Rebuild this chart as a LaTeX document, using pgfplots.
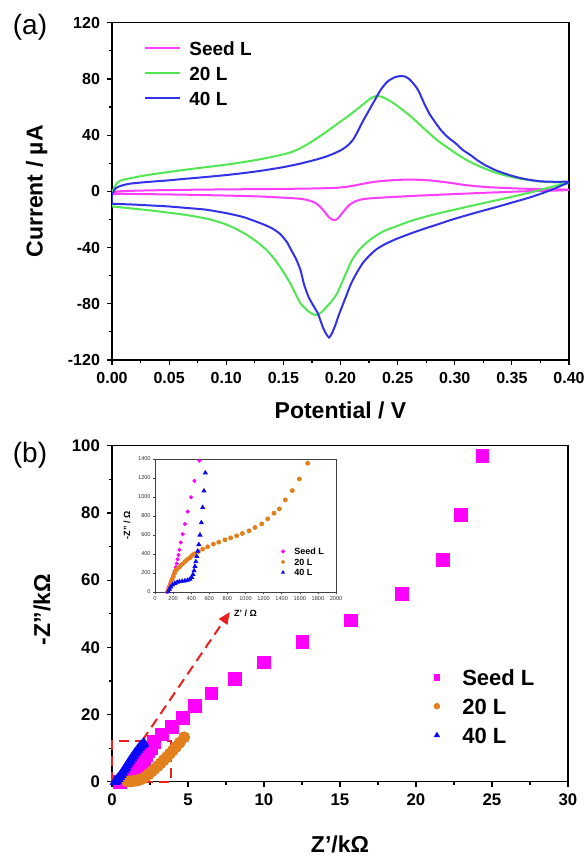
\documentclass[border=0pt]{standalone}
\usepackage{fontspec}
\setmainfont{Liberation Sans}
\usepackage{pgfplots}
\pgfplotsset{compat=1.18}
\usetikzlibrary{arrows.meta}

\definecolor{cvpink}{RGB}{255,60,255}
\definecolor{cvgreen}{RGB}{80,232,80}
\definecolor{cvblue}{RGB}{50,50,232}
\definecolor{ezpink}{RGB}{255,0,255}
\definecolor{ezorange}{RGB}{226,128,30}
\definecolor{ezblue}{RGB}{10,10,245}
\definecolor{ezred}{RGB}{235,30,30}

\pgfplotsset{
  common/.style={
    scale only axis, anchor=south west,
    tick align=outside, tick pos=left,
    major tick length=2.5pt, minor tick length=1.5pt,
    axis line style={line width=0.75pt},
    every tick/.style={line width=0.6pt, black},
    /pgf/number format/assume math mode=true,
    tick label style={font=\bfseries\fontsize{8}{9}\selectfont},
    label style={font=\bfseries\fontsize{11.5}{13}\selectfont},
  }
}

\begin{document}
\begin{tikzpicture}
\useasboundingbox (0,0) rectangle (293pt,-428.5pt);

\node[font=\fontsize{14}{16}\selectfont] at (15pt,-13.5pt) {(a)};
\node[font=\fontsize{14}{16}\selectfont] at (15pt,-227.5pt) {(b)};

% ---------- (a) cyclic voltammetry
\begin{axis}[common,
  at={(56pt,-180pt)}, width=228.5pt, height=168.65pt,
  xmin=0, xmax=0.4, ymin=-120, ymax=120,
  xtick={0,0.05,0.1,0.15,0.2,0.25,0.3,0.35,0.4},
  ytick={-120,-80,...,120},
  minor x tick num=1, minor y tick num=1,
  xticklabel style={/pgf/number format/fixed, /pgf/number format/fixed zerofill, /pgf/number format/precision=2},
  xlabel={Potential / V}, ylabel={Current / µA},
  xlabel style={at={(rel axis cs:0.5,-0.148)}, anchor=center},
  ylabel style={at={(rel axis cs:-0.165,0.5)}, anchor=center},
  legend cell align=left,
  legend image code/.code={\draw[#1] (0pt,0pt) -- (17.5pt,0pt); \path (21.5pt,0pt);},
  legend style={draw=none, fill=none, at={(rel axis cs:0.07,0.946)}, anchor=north west,
    inner sep=0pt, row sep=5.5pt, font=\bfseries\fontsize{9.5}{11}\selectfont,
    nodes={inner sep=0pt, text height=7pt, text depth=0pt}},
  every axis plot/.append style={line width=1pt, smooth, tension=0.4},
]
\addplot[cvpink] coordinates {
 (0,-1.7) (0,-0.5) (0.01,0.2) (0.033,0.7) (0.065,1.1) (0.098,1.4) (0.13,1.6) (0.164,1.9)
 (0.185,2.2) (0.196,2.5) (0.205,3.2) (0.213,4.3) (0.221,5.6) (0.229,6.7) (0.237,7.4)
 (0.245,7.9) (0.255,8.3) (0.265,8.3) (0.278,7.8) (0.287,7) (0.295,6.2) (0.303,5.2)
 (0.311,4.3) (0.327,3.1) (0.344,2.4) (0.36,1.9) (0.38,1.5) (0.4,1.2)
 (0.39,0.6) (0.36,0) (0.327,-1) (0.295,-2.1) (0.262,-3.3) (0.229,-4.8) (0.22,-5.5)
 (0.213,-7) (0.208,-9.5) (0.204,-13) (0.2,-17) (0.197,-19.8) (0.194,-20.5) (0.19,-18.5)
 (0.186,-14.5) (0.182,-10.8) (0.177,-7.8) (0.17,-6) (0.164,-5.2) (0.15,-4.5) (0.131,-3.7)
 (0.1,-3) (0.065,-2.4) (0.033,-2) (0,-1.7)};
\addlegendentry{Seed L}
\addplot[cvgreen] coordinates {
 (0,-10.7) (0,-3) (0.002,3) (0.007,7.5) (0.02,10) (0.033,11.9) (0.05,13.8) (0.065,15.5)
 (0.08,17) (0.098,18.8) (0.11,20.2) (0.124,22) (0.137,24) (0.15,26.3) (0.158,28.2)
 (0.165,30.8) (0.171,33.5) (0.1766,36.3) (0.183,39.8) (0.19,43.8) (0.198,48.5) (0.2058,53)
 (0.213,57.5) (0.22,62) (0.226,66) (0.231,67.8) (0.235,67.5) (0.239,66.2) (0.244,64)
 (0.249,61.3) (0.255,57.5) (0.262,53) (0.27,47) (0.278,41) (0.286,35.5) (0.295,30.4)
 (0.303,26) (0.311,22) (0.319,18.8) (0.327,16) (0.335,13.5) (0.344,11.4) (0.352,9.9)
 (0.36,8.6) (0.368,7.6) (0.376,6.9) (0.388,6.4) (0.4,6)
 (0.39,4.3) (0.38,2.2) (0.37,0) (0.36,-2) (0.345,-4.8) (0.33,-7.5) (0.315,-10.2)
 (0.3,-13) (0.285,-15.8) (0.27,-19) (0.26,-21.5) (0.25,-24.5) (0.24,-27.5) (0.232,-31)
 (0.225,-35) (0.22,-38.5) (0.215,-43) (0.21,-49) (0.206,-56) (0.2015,-64.5) (0.197,-72.6)
 (0.192,-78.5) (0.188,-82) (0.183,-86.3) (0.178,-88) (0.172,-85.5) (0.165,-79.7)
 (0.16,-72) (0.156,-65.5) (0.149,-56) (0.142,-48) (0.135,-41.5) (0.127,-36) (0.118,-31)
 (0.108,-26.5) (0.098,-23) (0.085,-19.8) (0.065,-16.8) (0.05,-15.2) (0.033,-13.5)
 (0.015,-12) (0,-10.7)};
\addlegendentry{20 L}
\addplot[cvblue] coordinates {
 (0,-8.8) (0,-3) (0.003,2) (0.008,4) (0.016,5.5) (0.03,6.6) (0.049,7.8) (0.065,9)
 (0.082,10.2) (0.1,11.6) (0.115,13) (0.13,14.6) (0.147,16.8) (0.156,18.2) (0.164,19.6)
 (0.172,21.2) (0.18,22.9) (0.188,24.9) (0.195,27.2) (0.2015,29.8) (0.2065,32.8) (0.211,36.8)
 (0.215,42.5) (0.22,50.5) (0.228,62) (0.235,72) (0.241,78) (0.247,81) (0.252,82)
 (0.256,81.8) (0.26,80) (0.264,76.5) (0.268,72) (0.273,63) (0.278,55) (0.283,49)
 (0.288,43.5) (0.294,38.5) (0.301,34) (0.307,29.5) (0.314,25.7) (0.32,22) (0.327,18.5)
 (0.335,15.3) (0.344,12.6) (0.352,10.6) (0.36,9) (0.368,7.9) (0.376,7.1) (0.388,6.8)
 (0.4,6.7)
 (0.393,4) (0.385,1.2) (0.376,-1.5) (0.365,-4.5) (0.35,-8) (0.335,-11.5) (0.32,-14.8)
 (0.3,-19.5) (0.285,-23.5) (0.27,-27.5) (0.258,-31) (0.247,-34.5) (0.238,-38)
 (0.231,-41.5) (0.225,-46) (0.22,-50.5) (0.216,-55.5) (0.2125,-60.5) (0.2088,-66.5)
 (0.203,-78.6) (0.1985,-88) (0.1956,-95) (0.1925,-101) (0.19,-104) (0.1875,-101.5)
 (0.185,-97.5) (0.1825,-92) (0.18,-86.5) (0.176,-81) (0.172,-75) (0.168,-66) (0.165,-56)
 (0.161,-48) (0.157,-42) (0.153,-36) (0.147,-30.2) (0.14,-26.3) (0.131,-23) (0.115,-18.3)
 (0.1,-15.5) (0.082,-13) (0.065,-11.8) (0.049,-10.7) (0.033,-10) (0.016,-9.3) (0,-8.8)};
\addlegendentry{40 L}
\end{axis}

% ---------- (b) Nyquist
\begin{axis}[common,
  at={(56pt,-390.85pt)}, width=228pt, height=168pt,
  xmin=0, xmax=30, ymin=0, ymax=100,
  xtick={0,5,...,30}, ytick={0,20,...,100},
  minor x tick num=1, minor y tick num=1,
  tick label style={font=\bfseries\fontsize{8.4}{9}\selectfont},
  xlabel={Z’/kΩ}, ylabel={-Z”/kΩ},
  xlabel style={at={(rel axis cs:0.5,-0.1875)}, anchor=center},
  ylabel style={at={(rel axis cs:-0.1535,0.512)}, anchor=center},
  clip mode=individual,
  legend cell align=left,
  legend image code/.code={\draw[mark repeat=2, mark phase=2, #1] plot coordinates {(0pt,0pt) (0pt,0pt) (12.5pt,0pt)}; \path (-2pt,0pt) (12.5pt,0pt);},
  legend image post style={mark size=1.4pt},
  legend style={draw=none, fill=none, at={(rel axis cs:0.702,0.336)}, anchor=north west,
    inner sep=0pt, row sep=6.5pt, font=\bfseries\fontsize{11}{12}\selectfont,
    nodes={inner sep=0pt, text height=8pt, text depth=0pt}},
]
\draw[ezred, line width=1pt, dash pattern=on 5pt off 3pt] (axis cs:0,0) rectangle (axis cs:3.9,12.2);
\draw[ezred, line width=1pt, dash pattern=on 5pt off 3pt, -{Triangle[length=6pt,width=5pt]}]
  (axis cs:2.0,12.3) -- (axis cs:7.75,50.5);
\addplot[only marks, mark=square*, mark size=3.2pt, ezpink] coordinates {
 (0.5,0.0) (0.8,0.5) (1.1,1.2) (1.4,2.2) (1.6,3.0) (1.75,4.0) (1.9,5.0) (2.02,6.0)
 (2.12,7.0) (2.25,8.0) (2.4,9.0) (2.55,10.0) (2.75,11.9) (3.3,14.1) (3.93,16.4)
 (4.67,19.1) (5.43,22.5) (6.54,26.3) (8.07,30.5) (9.98,35.5) (12.52,41.5) (15.71,48.0)
 (19.08,56.0) (21.79,66.0) (22.98,79.4) (24.37,97.0)};
\addlegendentry{Seed L}
\addplot[only marks, mark=*, mark size=2.8pt, ezorange] coordinates {
 (1.0,0.05) (1.2,0.1) (1.4,0.2) (1.6,0.35) (1.8,0.55) (2.0,0.9) (2.2,1.5) (2.4,2.2)
 (2.6,3.0) (2.8,3.8) (3.0,4.6) (3.2,5.5) (3.4,6.4) (3.6,7.3) (3.8,8.3) (4.0,9.3)
 (4.2,10.3) (4.45,11.6) (4.75,13.2)};
\addlegendentry{20 L}
\addplot[only marks, mark=triangle*, mark size=2.8pt, ezblue] coordinates {
 (0.2,0) (0.3,0.4) (0.4,0.9) (0.5,1.5) (0.6,2.1) (0.7,2.8) (0.8,3.5) (0.9,4.2) (1.0,4.9)
 (1.1,5.6) (1.2,6.3) (1.3,7.0) (1.4,7.6) (1.5,8.3) (1.6,8.9) (1.7,9.5) (1.8,10.1)
 (1.9,10.6) (2.0,11.0) (2.1,11.4)};
\addlegendentry{40 L}
\end{axis}

% ---------- inset
\begin{axis}[common,
  at={(77.5pt,-296pt)}, width=90.5pt, height=66.5pt,
  xmin=0, xmax=2000, ymin=0, ymax=1400,
  xtick={0,200,...,2000}, ytick={0,200,...,1400},
  major tick length=1pt,
  axis line style={line width=0.4pt, black!75},
  every tick/.style={line width=0.3pt, black!75},
  /pgf/number format/1000 sep={},
  tick label style={font=\fontsize{2.8}{3}\selectfont, text=black!80, inner sep=1pt},
  label style={font=\bfseries\fontsize{4.5}{5}\selectfont},
  axis background/.style={fill=white},
  xlabel={Z’ / Ω}, ylabel={-Z” / Ω},
  xlabel style={at={(rel axis cs:0.5,-0.158)}, anchor=center},
  ylabel style={at={(rel axis cs:-0.155,0.5)}, anchor=center},
  legend cell align=left,
  legend image code/.code={\draw[mark repeat=2, mark phase=2, #1] plot coordinates {(0pt,0pt) (0pt,0pt) (5.5pt,0pt)}; \path (-1pt,0pt) (5.5pt,0pt);},
  legend image post style={mark size=0.8pt},
  legend style={draw=none, fill=none, at={(rel axis cs:0.692,0.333)}, anchor=north west,
    inner sep=0pt, row sep=1.95pt, font=\bfseries\fontsize{4.5}{5}\selectfont,
    nodes={inner sep=0pt, text height=3.3pt, text depth=0pt}},
]
\addplot[only marks, mark=*, mark size=0.8pt, ezpink] coordinates {
 (130,0) (140,20) (150,45) (160,70) (170,95) (180,120) (190,145) (200,170) (210,195)
 (220,225) (230,260) (240,300) (250,345) (260,390) (269,444) (284,521) (306,609)
 (331,717) (361,847) (398,998) (435,1169) (490,1383)};
\addlegendentry{Seed L}
\addplot[only marks, mark=*, mark size=1pt, ezorange] coordinates {
 (140,7) (150,25) (158,42) (167,68) (177,95) (190,130) (203,165) (217,200) (232,230)
 (252,248) (276,268) (303,295) (331,320) (358,342) (387,362) (411,385) (435,403)
 (479,427) (527,452) (582,476) (645,504) (704,525) (773,550) (836,570) (902,592)
 (965,616) (1039,644) (1105,679) (1179,717) (1245,770) (1315,830) (1374,875)
 (1440,970) (1517,1068) (1595,1190) (1687,1355)};
\addlegendentry{20 L}
\addplot[only marks, mark=triangle*, mark size=1.1pt, ezblue] coordinates {
 (147,5) (160,30) (175,55) (195,75) (220,92) (245,103) (270,110) (300,114) (330,118)
 (360,124) (385,135) (405,155) (420,185) (432,225) (442,270) (452,320) (462,375)
 (472,430) (484,500) (497,600) (512,730) (527,890) (541,1065) (556,1255)};
\addlegendentry{40 L}
\end{axis}
\end{tikzpicture}
\end{document}
